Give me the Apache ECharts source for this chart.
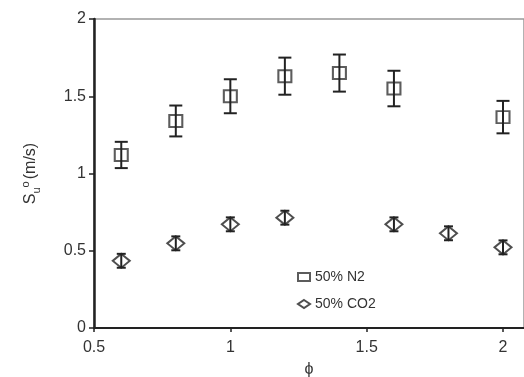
<!DOCTYPE html>
<html>
<head>
<meta charset="utf-8">
<script src="https://cdn.jsdelivr.net/npm/echarts@6/dist/echarts.min.js"></script>
<style>
  html, body { margin: 0; padding: 0; background: #fff; }
  #chart { width: 524px; height: 377px; }
</style>
</head>
<body>
<div id="chart"></div>
<script>
// phi values and burning velocity (m/s)
let n2Phi = [0.6, 0.8, 1.0, 1.2, 1.4, 1.6, 2.0]
let n2Su = [1.12, 1.34, 1.50, 1.63, 1.65, 1.55, 1.365]
let n2Err = [0.085, 0.1, 0.11, 0.12, 0.12, 0.115, 0.105]

let co2Phi = [0.6, 0.8, 1.0, 1.2, 1.6, 1.8, 2.0]
let co2Su = [0.435, 0.548, 0.671, 0.714, 0.671, 0.613, 0.522]
let co2Err = [0.045, 0.045, 0.045, 0.045, 0.045, 0.045, 0.045]

let xTicks = [0.5, 1, 1.5, 2]

function errData(xs, ys, es) {
  return xs.map(function (x, i) {
    return [x, ys[i] - es[i], ys[i] + es[i]]
  })
}

function errBar(capHalf) {
  return function (params, api) {
    let lo = api.coord([api.value(0), api.value(1)])
    let hi = api.coord([api.value(0), api.value(2)])
    let style = {stroke: '#222', lineWidth: 2}
    return {
      type: 'group',
      children: [
        {type: 'line', shape: {x1: lo[0], y1: lo[1], x2: hi[0], y2: hi[1]}, style: style},
        {type: 'line', shape: {x1: lo[0] - capHalf, y1: lo[1], x2: lo[0] + capHalf, y2: lo[1]}, style: style},
        {type: 'line', shape: {x1: hi[0] - capHalf, y1: hi[1], x2: hi[0] + capHalf, y2: hi[1]}, style: style}
      ]
    }
  }
}

let chart = echarts.init(document.getElementById('chart'))
let option = {
  animation: false,
  textStyle: {fontFamily: 'Liberation Sans, Arial, sans-serif'},
  grid: {
    left: 94,
    right: 0,
    top: 19,
    bottom: 49,
    outerBoundsMode: 'none',
    containLabel: false,
    show: true,
    borderColor: '#999',
    borderWidth: 1.5
  },
  legend: {
    orient: 'vertical',
    left: 292,
    top: 265,
    itemWidth: 12,
    itemHeight: 8,
    itemGap: 13,
    textStyle: {fontSize: 14, color: '#333'},
    data: [
      {name: '50% N2', icon: 'rect'},
      {name: '50% CO2', icon: 'diamond'}
    ]
  },
  xAxis: {
    type: 'value',
    min: 0.5,
    max: 2.077,
    interval: 0.5,
    name: 'ϕ',
    nameLocation: 'middle',
    nameGap: 34,
    nameTextStyle: {fontSize: 16, color: '#333'},
    splitLine: {show: false},
    axisLine: {lineStyle: {color: '#222', width: 2}},
    axisTick: {length: 4, lineStyle: {color: '#222', width: 1.5}},
    axisLabel: {
      fontSize: 16,
      color: '#333',
      margin: 12,
      showMaxLabel: false,
      formatter: function (v) {
        return xTicks.indexOf(v) >= 0 ? String(v) : ''
      }
    }
  },
  yAxis: {
    type: 'value',
    min: 0,
    max: 2,
    interval: 0.5,
    name: '{a|S}{b|u}{c|o}{a|(m/s)}',
    nameLocation: 'middle',
    nameGap: 52,
    nameTextStyle: {
      rich: {
        a: {fontSize: 16, color: '#333', lineHeight: 22, verticalAlign: 'middle'},
        b: {fontSize: 11, color: '#333', lineHeight: 22, verticalAlign: 'bottom'},
        c: {fontSize: 11, color: '#333', lineHeight: 22, verticalAlign: 'top', padding: [0, 2, 0, 0]}
      }
    },
    splitLine: {show: false},
    axisLine: {show: true, lineStyle: {color: '#222', width: 2.5}},
    axisTick: {show: true, length: 5, lineStyle: {color: '#222', width: 1.5}},
    axisLabel: {fontSize: 16, color: '#333', margin: 8}
  },
  series: [
    {
      name: '50% N2',
      type: 'scatter',
      symbol: 'rect',
      symbolSize: [13, 12],
      itemStyle: {color: '#fff', borderColor: '#333', borderWidth: 2},
      data: n2Phi.map(function (x, i) { return [x, n2Su[i]] }),
      z: 2
    },
    {
      name: '50% CO2',
      type: 'scatter',
      symbol: 'diamond',
      symbolSize: [17, 14],
      itemStyle: {color: '#fff', borderColor: '#222', borderWidth: 2},
      data: co2Phi.map(function (x, i) { return [x, co2Su[i]] }),
      z: 2
    },
    {
      type: 'custom',
      renderItem: errBar(6.5),
      data: errData(n2Phi, n2Su, n2Err),
      z: 3
    },
    {
      type: 'custom',
      renderItem: errBar(4.5),
      data: errData(co2Phi, co2Su, co2Err),
      z: 3
    }
  ]
}
chart.setOption(option)
</script>
</body>
</html>
